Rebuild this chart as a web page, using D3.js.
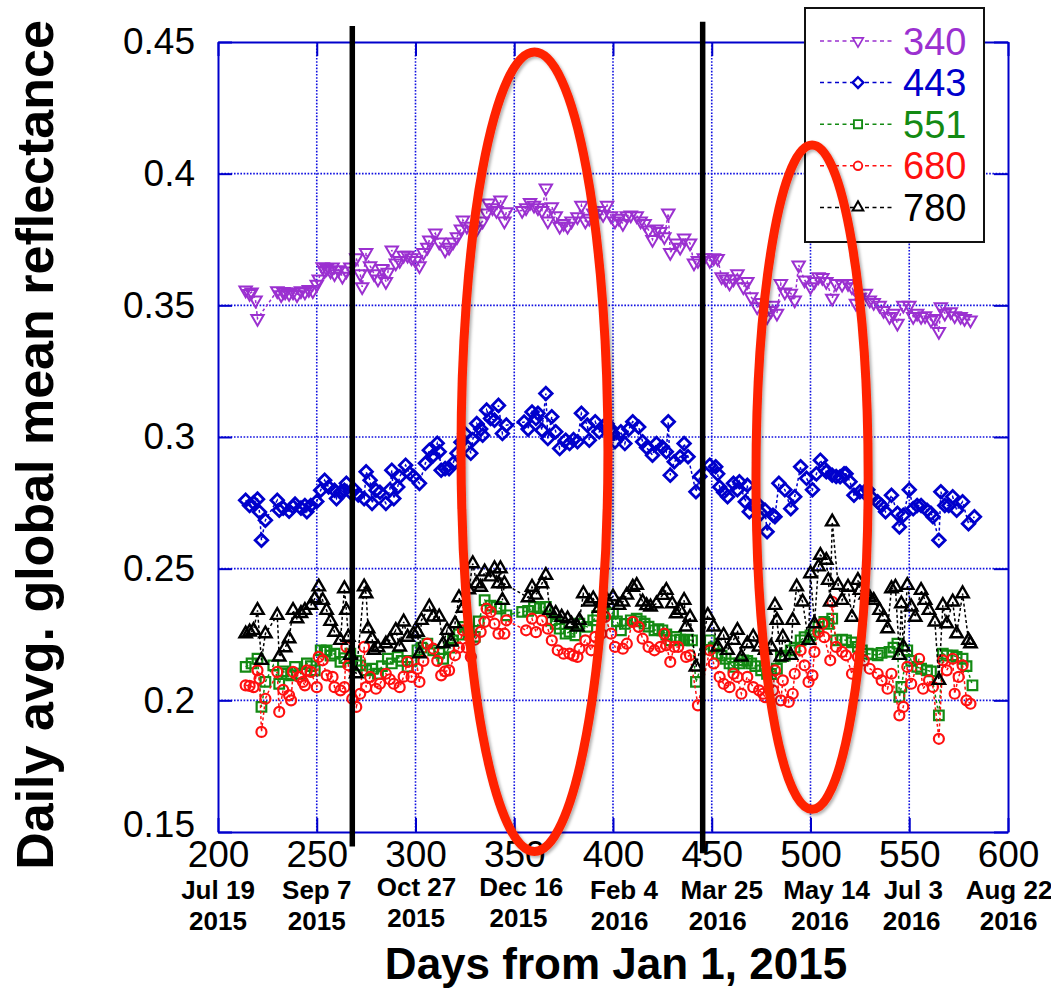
<!DOCTYPE html>
<html>
<head>
<meta charset="utf-8">
<script src="https://cdn.jsdelivr.net/npm/d3@7"></script>
<style>
  html, body { margin: 0; padding: 0; background: #ffffff; }
  svg { display: block; font-family: "Liberation Sans", Arial, Helvetica, sans-serif; }
</style>
</head>
<body>
<svg id="chart" width="1051" height="989"></svg>
<script>
// ---- axis ticks and labels ----
const xTicks = [200, 250, 300, 350, 400, 450, 500, 550, 600];
const yTicks = [0.15, 0.2, 0.25, 0.3, 0.35, 0.4, 0.45];
const dateLabels = [
  ["Jul 19", "2015"], ["Sep 7", "2015"], ["Oct 27", "2015"], ["Dec 16", "2015"],
  ["Feb 4", "2016"], ["Mar 25", "2016"], ["May 14", "2016"], ["Jul 3", "2016"], ["Aug 22", "2016"]
];
const xTitle = "Days from Jan 1, 2015";
const yTitle = "Daily avg. global mean reflectance";

// ---- series: [day from Jan 1 2015, daily average reflectance] ----
const wavelengths = ["340", "443", "551", "680", "780"];

const s340 = [
  [214,.3558],[216,.3545],[217,.3550],[219,.3520],[220,.3450],
  [230,.3555],[232,.3540],[233,.3552],[234,.3550],[236,.3545],[238,.3550],[240,.3540],[242,.3555],[244,.3550],[246,.3560],[248,.3555],
  [250,.3580],[251,.3600],[253,.3646],[254,.3632],[255,.3640],[257,.3630],[258,.3645],[259,.3620],[261,.3635],[263,.3610],[265,.3630],[267,.3645],
  [270,.3680],[272,.3620],[273,.3570],[275,.3700],[277,.3650],[279,.3620],[281,.3600],[283,.3640],[285,.3590],[286,.3625],[288,.3710],
  [290,.3660],[292,.3670],[294,.3690],[296,.3690],[298,.3680],[300,.3670],[302,.3650],[304,.3700],[306,.3720],[307,.3748],[310,.3774],
  [312,.3740],[315,.3710],[317,.3720],[319,.3740],[321,.3760],[323,.3790],[324,.3824],[326,.3800],[329,.3785],[331,.3790],[334,.3820],
  [336,.3850],[337,.3888],[339,.3870],[341,.3860],[343,.3900],[345,.3820],[346,.3855],
  [354,.3860],[356,.3870],[358,.3890],[360,.3880],[362,.3870],[364,.3860],[366,.3945],[367,.3820],[369,.3874],[371,.3840],
  [373,.3800],[375,.3810],[377,.3800],[379,.3820],[382,.3836],[384,.3880],[386,.3820],[388,.3830],[390,.3850],[393,.3860],
  [395,.3845],[397,.3880],[399,.3840],[401,.3820],[403,.3830],[405,.3810],[407,.3840],[409,.3843],[412,.3840],[414,.3820],[416,.3810],
  [418,.3786],[420,.3750],[422,.3790],[424,.3780],[426,.3760],[428,.3850],[429,.3700],[432,.3736],[434,.3720],[436,.3755],
  [439,.3736],[441,.3660],[443,.3670],[446,.3680],[449,.3670],[451,.3680],[453,.3678],[455,.3608],[457,.3600],[459,.3584],
  [461,.3600],[463,.3620],[466,.3570],[468,.3590],[470,.3532],[473,.3494],[475,.3510],[478,.3456],[480,.3480],[481,.3500],
  [483,.3470],[485,.3583],[487,.3550],[490,.3546],[492,.3520],[494,.3653],[497,.3596],[500,.3570],[502,.3590],[504,.3608],
  [506,.3605],[508,.3590],[511,.3527],[513,.3583],[516,.3580],[519,.3583],[521,.3570],[523,.3508],[525,.3530],[528,.3546],
  [530,.3520],[532,.3510],[535,.3500],[537,.3480],[540,.3457],[542,.3470],[544,.3432],[547,.3500],[550,.3500],[552,.3457],
  [554,.3470],[556,.3457],[558,.3460],[561,.3444],[563,.3450],[565,.3400],[566,.3494],[568,.3470],[571,.3475],[573,.3460],
  [576,.3457],[578,.3450],[581,.3444]
];

const s443 = [
  [214,.2760],[216,.2740],[218,.2750],[220,.2764],[221,.2715],[222,.2608],[224,.2684],
  [230,.2760],[231,.2722],[233,.2730],[236,.2718],[238,.2735],[239,.2745],[242,.2730],[244,.2740],[245,.2716],[247,.2740],
  [250,.2755],[252,.2798],[254,.2836],[256,.2810],[259,.2798],[260,.2766],[262,.2790],[264,.2798],[265,.2824],[267,.2790],
  [269,.2800],[271,.2780],[274,.2766],[275,.2868],[277,.2836],[278,.2748],[280,.2798],[282,.2790],[285,.2748],[287,.2800],
  [288,.2874],[289,.2766],[291,.2810],[292,.2849],[295,.2893],[297,.2862],[299,.2850],[302,.2824],[305,.2900],[307,.2950],
  [309,.2930],[311,.2976],[312,.2944],[313,.2874],[315,.2880],[317,.2880],[319,.2900],[321,.2938],[323,.2980],[325,.3013],
  [328,.2938],[329,.2990],[331,.3051],[333,.3030],[334,.3007],[336,.3102],[338,.3070],[340,.3064],[342,.3120],[344,.3013],
  [346,.3045],
  [355,.3057],[357,.3030],[359,.3095],[361,.3070],[362,.3090],[364,.3026],[366,.3165],[367,.2994],[369,.3077],[371,.3020],
  [373,.2956],[376,.2988],[378,.2975],[380,.2990],[382,.2982],[384,.3090],[387,.3045],[388,.2988],[391,.3058],[393,.3020],
  [395,.3040],[397,.3050],[399,.3030],[400,.3013],[401,.2982],[404,.3020],[406,.2975],[408,.3030],[410,.3058],[413,.3038],
  [415,.2982],[417,.2960],[420,.2931],[422,.2975],[425,.2962],[427,.2944],[428,.3058],[429,.2855],[431,.2906],[434,.2925],
  [436,.2975],[438,.2925],[442,.2792],[444,.2850],
  [449,.2893],[452,.2887],[453,.2860],[454,.2810],[456,.2790],[458,.2773],[461,.2824],[463,.2800],[464,.2830],[467,.2754],
  [468,.2817],[469,.2716],[471,.2740],[473,.2748],[475,.2710],[477,.2722],[478,.2640],[481,.2703],[482,.2697],[484,.2824],
  [487,.2800],[490,.2728],[492,.2773],[495,.2887],[498,.2843],[501,.2800],[503,.2860],[505,.2912],[507,.2880],[508,.2868],
  [511,.2855],[513,.2850],[515,.2849],[517,.2860],[518,.2860],[520,.2830],[522,.2779],[525,.2792],[527,.2790],[529,.2800],
  [531,.2770],[534,.2754],[536,.2740],[538,.2716],[541,.2779],[544,.2710],[545,.2658],[547,.2703],[550,.2800],[552,.2728],
  [554,.2740],[556,.2740],[559,.2722],[561,.2710],[562,.2697],[565,.2608],[566,.2792],[568,.2740],[570,.2740],[572,.2773],
  [574,.2722],[577,.2754],[580,.2671],[583,.2697]
];

const s551 = [
  [214,.2127],[217,.2140],[220,.2158],[222,.1975],[224,.2070],
  [228,.2133],[231,.2063],[233,.2110],[235,.2100],[237,.2095],[239,.2127],[242,.2101],[245,.2140],[247,.2130],[249,.2114],
  [252,.2190],[254,.2185],[255,.2190],[257,.2170],[259,.2177],[262,.2146],[264,.2160],[267,.2177],[270,.2150],[272,.2133],
  [275,.2114],[278,.2120],[281,.2101],[283,.2130],[286,.2158],[288,.2140],[291,.2165],[293,.2150],[296,.2127],[298,.2150],
  [301,.2190],[303,.2200],[306,.2215],[309,.2190],[312,.2180],[314,.2158],[317,.2200],[319,.2228],[322,.2250],[324,.2279],
  [327,.2260],[330,.2241],[332,.2300],[335,.2380],[338,.2360],[341,.2355],[343,.2348],[346,.2323],
  [354,.2336],[357,.2340],[360,.2355],[363,.2350],[366,.2355],[369,.2304],[371,.2290],[373,.2272],[376,.2253],[378,.2260],
  [381,.2247],[383,.2291],[387,.2279],[390,.2304],[392,.2320],[395,.2336],[398,.2330],[400,.2329],[402,.2300],[404,.2266],
  [406,.2290],[409,.2304],[412,.2310],[414,.2300],[416,.2291],[418,.2280],[421,.2266],[423,.2270],[425,.2266],[427,.2250],
  [429,.2228],[432,.2241],[434,.2230],[436,.2228],[438,.2230],[440,.2228],[442,.2070],
  [449,.2228],[451,.2200],[453,.2177],[455,.2170],[457,.2158],[459,.2140],[461,.2127],[464,.2140],[466,.2152],[468,.2150],
  [470,.2140],[472,.2130],[475,.2114],[478,.2101],[480,.2100],[483,.2120],[485,.2165],[487,.2170],[490,.2190],[492,.2200],
  [495,.2228],[497,.2240],[500,.2247],[502,.2260],[504,.2279],[507,.2298],[509,.2290],[511,.2310],[513,.2228],[516,.2230],
  [518,.2228],[521,.2220],[524,.2203],[526,.2190],[529,.2177],[531,.2175],[534,.2171],[536,.2180],[540,.2184],[542,.2200],
  [544,.2215],[545,.2013],[546,.2051],[549,.2190],[551,.2150],[554,.2127],[556,.2120],[559,.2114],[561,.2110],[565,.1943],
  [567,.2177],[569,.2170],[572,.2171],[574,.2165],[577,.2158],[579,.2130],[582,.2057]
];

const s680 = [
  [214,.2057],[216,.2055],[218,.2050],[220,.2114],[221,.2082],[222,.1880],[224,.2006],
  [230,.2108],[231,.1956],[233,.2040],[236,.2019],[237,.2000],[238,.2108],[241,.2089],[243,.2070],[244,.2057],[245,.2114],
  [247,.2108],[250,.2050],[251,.2165],[253,.2152],[255,.2095],[258,.2089],[259,.2050],[262,.2038],[264,.2050],[265,.2203],
  [266,.2133],[268,.2006],[270,.1975],[272,.2025],[274,.2203],[275,.2050],[277,.2089],[280,.2044],[282,.2063],[285,.2101],
  [287,.2080],[289,.2063],[292,.2050],[294,.2090],[296,.2146],[298,.2089],[301,.2120],[302,.2070],[304,.2150],[306,.2215],
  [309,.2196],[311,.2150],[313,.2095],[315,.2110],[317,.2114],[320,.2171],[322,.2200],[324,.2266],[326,.2200],[328,.2165],
  [330,.2230],[333,.2260],[335,.2298],[336,.2348],[338,.2336],[340,.2291],[342,.2253],[345,.2253],[346,.2304],
  [356,.2266],[359,.2310],[361,.2259],[364,.2304],[367,.2272],[369,.2228],[372,.2190],[375,.2177],[378,.2177],[380,.2170],
  [382,.2165],[383,.2196],[386,.2228],[389,.2190],[391,.2241],[394,.2253],[396,.2317],[399,.2253],[401,.2203],[405,.2196],
  [407,.2215],[410,.2298],[413,.2279],[415,.2234],[418,.2203],[421,.2190],[424,.2203],[426,.2253],[427,.2209],[429,.2146],
  [431,.2203],[433,.2203],[437,.2165],[439,.2171],[443,.1981],
  [449,.2190],[451,.2140],[454,.2089],[456,.2063],[459,.2050],[461,.2101],[463,.2089],[465,.2025],[468,.2089],[471,.2050],
  [474,.2038],[476,.2025],[477,.2012],[481,.2038],[482,.2114],[485,.2000],[486,.2076],[489,.1994],[491,.2025],[492,.2101],
  [495,.2190],[497,.2133],[499,.2070],[501,.2095],[502,.2184],[504,.2259],[506,.2291],[507,.2240],[510,.2152],[511,.2374],
  [513,.2203],[516,.2184],[518,.2171],[521,.2101],[524,.2165],[527,.2152],[530,.2120],[534,.2101],[536,.2076],[539,.2044],
  [541,.2101],[545,.1943],[547,.1975],[549,.2127],[551,.2063],[555,.2158],[557,.2044],[560,.2076],[562,.2051],[565,.1854],
  [567,.2152],[569,.2114],[572,.2158],[573,.2025],[575,.2089],[577,.2133],[579,.2000],[581,.1987]
];

const s780 = [
  [214,.2253],[216,.2260],[218,.2266],[220,.2342],[222,.2152],[224,.2253],
  [230,.2323],[231,.2165],[234,.2200],[236,.2234],[238,.2342],[240,.2310],[242,.2330],[244,.2342],[247,.2361],[249,.2386],
  [251,.2431],[253,.2380],[255,.2342],[257,.2300],[259,.2259],[262,.2228],[264,.2424],[265,.2342],[266,.2240],[267,.2171],
  [270,.2101],[274,.2431],[275,.2405],[276,.2272],[278,.2234],[279,.2190],[281,.2200],[285,.2215],[287,.2228],[290,.2266],
  [292,.2203],[294,.2298],[296,.2240],[299,.2253],[301,.2259],[302,.2177],[303,.2304],[307,.2355],[309,.2317],[312,.2317],
  [314,.2215],[316,.2266],[318,.2222],[320,.2291],[322,.2390],[324,.2350],[327,.2420],[329,.2519],[331,.2443],[333,.2430],
  [335,.2488],[338,.2469],[340,.2500],[342,.2443],[343,.2500],[344,.2380],[345,.2443],
  [357,.2390],[359,.2430],[361,.2400],[364,.2443],[366,.2475],[368,.2342],[371,.2330],[374,.2316],[377,.2310],[379,.2290],
  [382,.2279],[383,.2304],[385,.2405],[388,.2374],[390,.2386],[393,.2350],[395,.2370],[397,.2380],[400,.2393],[403,.2361],
  [405,.2374],[407,.2400],[410,.2430],[412,.2437],[415,.2374],[417,.2360],[419,.2355],[422,.2367],[425,.2399],[427,.2418],
  [430,.2367],[432,.2329],[434,.2342],[436,.2380],[437,.2279],[439,.2316],[442,.2127],
  [448,.2323],[451,.2279],[453,.2203],[456,.2247],[458,.2190],[461,.2228],[463,.2266],[465,.2165],[468,.2215],[471,.2241],
  [474,.2203],[477,.2190],[480,.2203],[482,.2361],[483,.2304],[485,.2165],[486,.2240],[490,.2171],[491,.2304],[493,.2431],
  [496,.2374],[499,.2228],[500,.2481],[502,.2291],[504,.2507],[505,.2551],[508,.2532],[509,.2456],[510,.2374],[511,.2678],
  [514,.2437],[516,.2380],[519,.2430],[521,.2316],[524,.2456],[525,.2418],[528,.2400],[530,.2390],[532,.2380],[535,.2342],
  [537,.2316],[539,.2272],[541,.2424],[543,.2430],[545,.2171],[546,.2367],[547,.2203],[549,.2437],[551,.2355],[553,.2316],
  [556,.2418],[558,.2380],[560,.2342],[563,.2298],[565,.2076],[567,.2361],[569,.2291],[572,.2374],[574,.2253],[577,.2405],
  [580,.2228],[581,.2215]
];

// ---- annotations (data units) ----
const eventDays = [268, 445.4];            // vertical black markers
const eventTops = [0.4561, 0.4577];
const eventBottoms = [0.1445, 0.1419];
const ovalCentreDays = [360.25, 500.8];     // red highlight ovals
const ovalHalfWidthDays = [37.2, 28.4];
const ovalTops = [0.4462, 0.4109];
const ovalBottoms = [0.1426, 0.1586];

// ---- drawing ----
const seriesData = [s340, s443, s551, s680, s780];
const colors = ["#9b30d0", "#0000cc", "#138a13", "#ff1010", "#000000"];
const shapes = ["triDown", "diamond", "square", "circle", "triUp"];
const strokeW = [2.0, 2.8, 2.2, 2.2, 2.4];

const svg = d3.select("#chart");
const x = d3.scaleLinear().domain([200, 600]).range([218, 1008]);
const y = d3.scaleLinear().domain([0.15, 0.45]).range([832, 42]);
const axisBlue = "#0000cc";

svg.append("rect").attr("width", 1051).attr("height", 989).attr("fill", "#fff");

const defs = svg.append("defs");
const shadow = defs.append("filter").attr("id", "ovalShadow")
  .attr("x", "-20%").attr("y", "-5%").attr("width", "140%").attr("height", "110%");
shadow.append("feDropShadow").attr("dx", 2).attr("dy", 2).attr("stdDeviation", 1.6)
  .attr("flood-color", "#000").attr("flood-opacity", 0.3);

// dotted grid
const grid = svg.append("g");
grid.selectAll("line.gx").data(xTicks.slice(1, -1)).join("line")
  .attr("x1", d => x(d)).attr("x2", d => x(d)).attr("y1", y(0.45)).attr("y2", y(0.15))
  .attr("stroke", "#1010e0").attr("stroke-width", 1.6).attr("stroke-dasharray", "1.6,1.6");
grid.selectAll("line.gy").data(yTicks.slice(1, -1)).join("line")
  .attr("y1", d => y(d)).attr("y2", d => y(d)).attr("x1", x(200)).attr("x2", x(600))
  .attr("stroke", "#1010e0").attr("stroke-width", 1.6).attr("stroke-dasharray", "1.6,1.6");

// axes with inward ticks on all four sides
function styleAxis(g) {
  g.select(".domain").attr("stroke", axisBlue).attr("stroke-width", 2);
  g.selectAll(".tick line").attr("stroke", axisBlue).attr("stroke-width", 2);
  g.selectAll(".tick text").attr("fill", "#000").attr("font-size", 37)
    .attr("font-family", "'Liberation Sans', Arial, Helvetica, sans-serif");
}
svg.append("g").attr("transform", `translate(0,${y(0.15)})`)
  .call(d3.axisBottom(x).tickValues(xTicks).tickSize(-14).tickSizeOuter(0).tickPadding(9).tickFormat(d3.format("d")))
  .call(styleAxis);
const gLeft = svg.append("g").attr("transform", `translate(${x(200)},0)`)
  .call(d3.axisLeft(y).tickValues(yTicks).tickSize(-14).tickSizeOuter(0).tickPadding(23).tickFormat(d3.format("")))
  .call(styleAxis);
gLeft.selectAll(".tick text").filter(d => d === yTicks[0]).attr("dy", "0.12em");
svg.append("g").attr("transform", `translate(0,${y(0.45)})`)
  .call(d3.axisTop(x).tickValues(xTicks).tickSize(-14).tickSizeOuter(0).tickFormat(""))
  .call(styleAxis);
svg.append("g").attr("transform", `translate(${x(600)},0)`)
  .call(d3.axisRight(y).tickValues(yTicks).tickSize(-14).tickSizeOuter(0).tickFormat(""))
  .call(styleAxis);

// calendar dates under the day ticks
const dateNudgeX = [0, 0, 1, 7, 11, 10, 16, 4, 1];
const dateNudgeY = [0, 0, -3, -3, 0, 0, 0, 0, 0];
const dates = svg.append("g").attr("font-weight", "bold").attr("font-size", 26).attr("text-anchor", "middle");
xTicks.forEach((t, i) => {
  dates.append("text").attr("x", x(t) + dateNudgeX[i]).attr("y", 899 + dateNudgeY[i]).text(dateLabels[i][0]);
  dates.append("text").attr("x", x(t) + dateNudgeX[i] * 0.6).attr("y", 930 + dateNudgeY[i]).text(dateLabels[i][1]);
});

// axis titles
svg.append("text").attr("x", 616).attr("y", 979).attr("text-anchor", "middle")
  .attr("font-weight", "bold").attr("font-size", 44).text(xTitle);
svg.append("text").attr("transform", "translate(53,445) rotate(-90)").attr("text-anchor", "middle")
  .attr("font-weight", "bold").attr("font-size", 52).text(yTitle);

// marker outlines centred on the origin
function markerPath(shape) {
  const p = d3.path();
  if (shape === "triDown" || shape === "triUp") {
    const r = 6.2, h = r * Math.sqrt(3), s = shape === "triUp" ? -1 : 1;
    p.moveTo(-r, -s * h / 3); p.lineTo(r, -s * h / 3); p.lineTo(0, s * 2 * h / 3); p.closePath();
  } else if (shape === "diamond") {
    const r = 6.3;
    p.moveTo(0, -r); p.lineTo(r, 0); p.lineTo(0, r); p.lineTo(-r, 0); p.closePath();
  } else if (shape === "square") {
    const r = 4.8;
    p.rect(-r, -r, 2 * r, 2 * r);
  } else {
    p.arc(0, 0, 5.0, 0, 2 * Math.PI);
  }
  return p.toString();
}

const line = d3.line().x(d => x(d[0])).y(d => y(d[1]));
seriesData.forEach((data, i) => {
  const g = svg.append("g");
  g.append("path").datum(data).attr("d", line).attr("fill", "none")
    .attr("stroke", colors[i]).attr("stroke-width", 1.5).attr("stroke-dasharray", "3,2.5");
  g.selectAll("path.m").data(data).join("path").attr("class", "m")
    .attr("transform", d => `translate(${x(d[0])},${y(d[1])})`)
    .attr("d", markerPath(shapes[i]))
    .attr("fill", "none").attr("stroke", colors[i]).attr("stroke-width", strokeW[i]);
});

// legend
const legend = svg.append("g");
legend.append("rect").attr("x", 805).attr("y", 8).attr("width", 179).attr("height", 234)
  .attr("fill", "#fff").attr("stroke", "#111").attr("stroke-width", 2);
wavelengths.forEach((w, i) => {
  const ly = 41 + i * 41.6;
  legend.append("line").attr("x1", 820).attr("x2", 895).attr("y1", ly).attr("y2", ly)
    .attr("stroke", colors[i]).attr("stroke-width", 1.5).attr("stroke-dasharray", "4,3.5");
  legend.append("path").attr("transform", `translate(858,${ly}) scale(0.85)`).attr("d", markerPath(shapes[i]))
    .attr("fill", "#fff").attr("stroke", colors[i]).attr("stroke-width", strokeW[i]);
  legend.append("text").attr("x", 903).attr("y", ly + 13.5).attr("font-size", 38)
    .attr("fill", colors[i]).text(w);
});

// vertical event markers
svg.append("g").selectAll("line").data(eventDays).join("line")
  .attr("x1", d => x(d)).attr("x2", d => x(d))
  .attr("y1", (d, i) => y(eventTops[i])).attr("y2", (d, i) => y(eventBottoms[i]))
  .attr("stroke", "#000").attr("stroke-width", 5.5);

// highlight ovals
svg.append("g").selectAll("ellipse").data(ovalCentreDays).join("ellipse")
  .attr("cx", d => x(d))
  .attr("cy", (d, i) => (y(ovalTops[i]) + y(ovalBottoms[i])) / 2)
  .attr("rx", (d, i) => x(d + ovalHalfWidthDays[i]) - x(d))
  .attr("ry", (d, i) => (y(ovalBottoms[i]) - y(ovalTops[i])) / 2)
  .attr("fill", "none").attr("stroke", "#ff2200").attr("stroke-width", 9)
  .attr("filter", "url(#ovalShadow)");
</script>
</body>
</html>
